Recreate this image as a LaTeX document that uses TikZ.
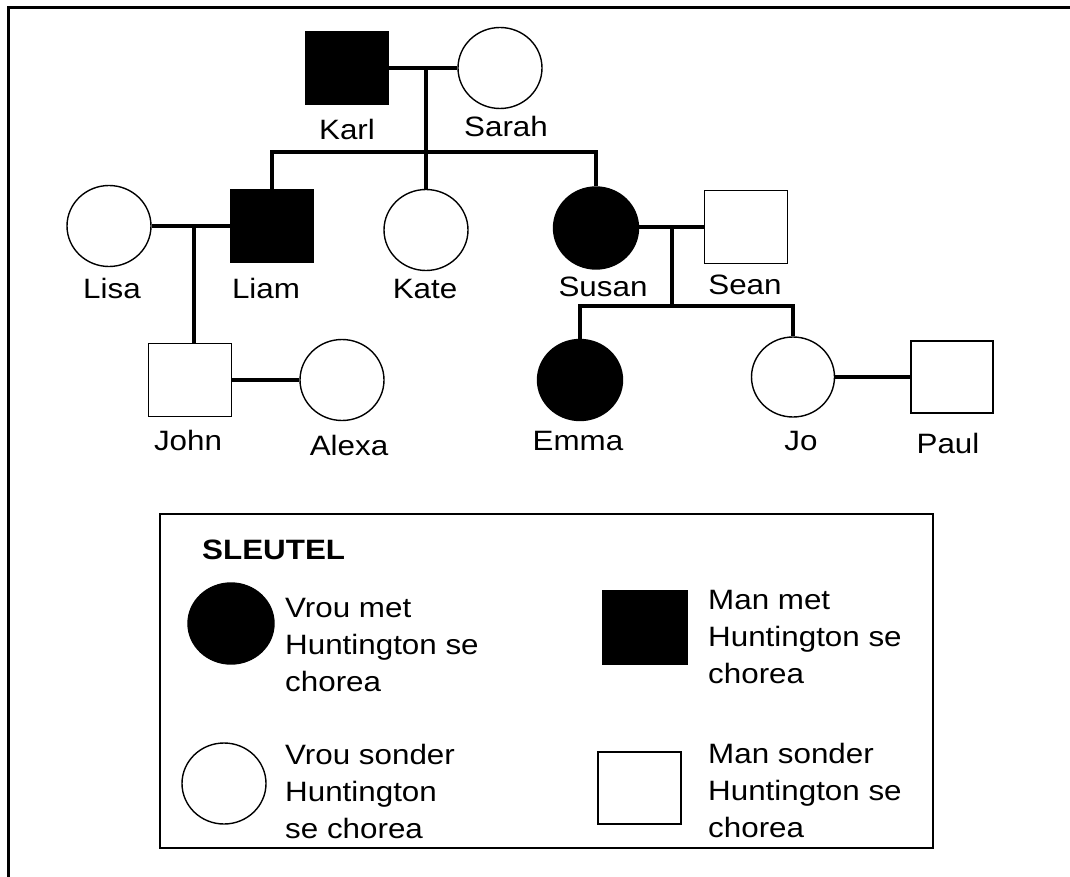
\documentclass[tikz,border=0pt]{standalone}
\usepackage{fontspec}
\setmainfont{Liberation Sans}[FakeStretch=1.12]
\usetikzlibrary{shapes.geometric}

\begin{document}
\begin{tikzpicture}[x=1pt,y=-1pt,
    female/.style={ellipse,draw,line width=1.4pt,minimum width=84pt,minimum height=81pt,inner sep=0pt},
    male/.style={rectangle,draw,line width=1.4pt,minimum width=83pt,minimum height=73pt,inner sep=0pt},
    ill/.style={fill=black},
    link/.style={line width=3.4pt},
    personlbl/.style={font=\fontsize{28}{37}\selectfont,inner sep=0pt,anchor=base},
    keytext/.style={font=\fontsize{28}{37}\selectfont,inner sep=0pt,anchor=west,align=left}]
    \useasboundingbox (0,0) rectangle (1070,877);
    \draw[line width=3.5pt] (8.5,877) -- (8.5,7.5) -- (1070,7.5);

    % first generation
    \node[male,ill] (karl) at (347,68) {};
    \node[female] (sarah) at (500,68) {};
    \node[personlbl] (karllbl) at (347,140) {Karl};
    \node[personlbl] (sarahlbl) at (506,137) {Sarah};
    \coordinate (ks) at (426,68);
    \coordinate (ksbar) at (426,152);
    \draw[link] (karl) -- (sarah);

    % second generation
    \node[female] (lisa) at (109,226) {};
    \node[male,ill] (liam) at (272,226) {};
    \node[female] (kate) at (426,230) {};
    \node[female,ill,minimum width=85pt,minimum height=82pt] (susan) at (596,228) {};
    \node[male] (sean) at (746,227) {};
    \node[personlbl] (lisalbl) at (112,298) {Lisa};
    \node[personlbl] (liamlbl) at (266,298) {Liam};
    \node[personlbl] (katelbl) at (425,298) {Kate};
    \node[personlbl] (susanlbl) at (603,296) {Susan};
    \node[personlbl] (seanlbl) at (745,294) {Sean};
    \draw[link] (ks) -- (kate.north);
    \draw[link] (liam.north) |- (ksbar) -| (susan.north);
    \coordinate (ll) at (194,226);
    \coordinate (ss) at (672,227);
    \coordinate (ssbar) at (672,306);
    \draw[link] (lisa) -- (liam);
    \draw[link] (susan.east |- ss) -- (sean.west |- ss);

    % third generation
    \node[male] (john) at (190,380) {};
    \node[female] (alexa) at (342,380) {};
    \node[female,ill,minimum width=85pt] (emma) at (580,380) {};
    \node[female,minimum width=83pt,minimum height=80pt] (jo) at (793,377) {};
    \node[male,minimum width=82pt,minimum height=72pt] (paul) at (952,377) {};
    \node[personlbl] (johnlbl) at (188,450) {John};
    \node[personlbl] (alexalbl) at (349,455) {Alexa};
    \node[personlbl] (emmalbl) at (578,450) {Emma};
    \node[personlbl] (jolbl) at (801,450) {Jo};
    \node[personlbl] (paullbl) at (948,453) {Paul};
    \draw[link] (ll) -- (ll |- john.north);
    \draw[link] (ss) -- (ssbar);
    \draw[link] (emma.north) |- (ssbar) -| (jo.north);
    \draw[link] (john) -- (alexa);
    \draw[link] (jo) -- (paul);

    % key
    \draw[line width=2pt] (160,514) rectangle (933,848);
    \node[font=\fontsize{28}{37}\selectfont\bfseries,inner sep=0pt,anchor=base west] (keytitle) at (202,559) {SLEUTEL};
    \node[female,ill,minimum width=86pt] (keyfill) at (231,623.5) {};
    \node[keytext] (keyfilltxt) at (285,645) {Vrou met\\Huntington se\\chorea};
    \node[male,ill,minimum width=84pt] (keysqfill) at (645,627.5) {};
    \node[keytext] (keysqfilltxt) at (708,636.5) {Man met\\Huntington se\\chorea};
    \node[female] (keyopen) at (224,783.5) {};
    \node[keytext] (keyopentxt) at (285,791.5) {Vrou sonder\\Huntington\\se chorea};
    \node[male,minimum height=72pt] (keysqopen) at (639.5,788) {};
    \node[keytext] (keysqopentxt) at (708,790) {Man sonder\\Huntington se\\chorea};
\end{tikzpicture}
\end{document}
